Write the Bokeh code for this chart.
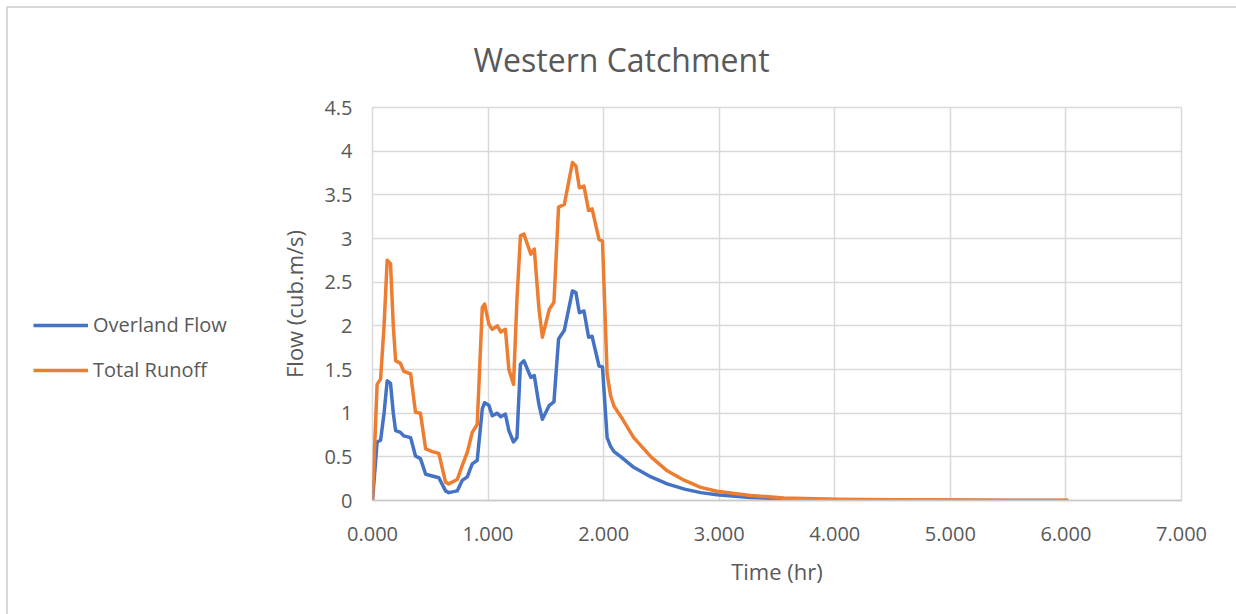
from bokeh.plotting import figure
from bokeh.layouts import row
from bokeh.models import Range1d, FixedTicker, Legend, LegendItem
from bokeh.embed import file_html
from bokeh.resources import INLINE

# ---- data ----
time_hr = [0, 0.04, 0.07, 0.10, 0.127, 0.156, 0.18, 0.2, 0.242, 0.27, 0.33, 0.372,
           0.415, 0.46, 0.517, 0.574, 0.632, 0.66, 0.733, 0.776, 0.82, 0.863, 0.906,
           0.95, 0.97, 1.007, 1.036, 1.08, 1.11, 1.15, 1.18, 1.22, 1.25, 1.28, 1.31,
           1.37, 1.4, 1.44, 1.47, 1.53, 1.57, 1.61, 1.66, 1.73, 1.76, 1.79, 1.83,
           1.87, 1.9, 1.96, 1.99, 2.03, 2.06, 2.09, 2.15, 2.26, 2.41, 2.55, 2.7,
           2.84, 2.98, 3.27, 3.56, 4.0, 4.5, 5.0, 5.5, 6.02]

overland_flow = [0, 0.67, 0.69, 1.0, 1.37, 1.34, 1.0, 0.8, 0.78, 0.74, 0.72, 0.51,
                 0.48, 0.3, 0.28, 0.26, 0.11, 0.09, 0.11, 0.23, 0.27, 0.42, 0.46,
                 1.05, 1.12, 1.09, 0.97, 1.0, 0.96, 0.99, 0.8, 0.67, 0.72, 1.56, 1.6,
                 1.41, 1.43, 1.1, 0.93, 1.09, 1.13, 1.85, 1.95, 2.4, 2.38, 2.15, 2.17,
                 1.87, 1.88, 1.54, 1.53, 0.72, 0.62, 0.56, 0.5, 0.38, 0.27, 0.19, 0.13,
                 0.09, 0.065, 0.035, 0.02, 0.008, 0.004, 0.002, 0.001, 0.001]

total_runoff = [0, 1.33, 1.39, 2.0, 2.75, 2.71, 2.0, 1.6, 1.57, 1.48, 1.45, 1.01,
                1.0, 0.59, 0.56, 0.54, 0.21, 0.19, 0.24, 0.4, 0.55, 0.78, 0.87,
                2.21, 2.25, 2.02, 1.96, 2.0, 1.93, 1.96, 1.5, 1.33, 2.3, 3.03, 3.05,
                2.82, 2.88, 2.2, 1.87, 2.19, 2.27, 3.36, 3.39, 3.87, 3.83, 3.58, 3.6,
                3.32, 3.34, 2.99, 2.97, 1.45, 1.2, 1.08, 0.96, 0.72, 0.5, 0.34, 0.23,
                0.15, 0.106, 0.057, 0.03, 0.015, 0.008, 0.005, 0.003, 0.002]

series_names = ["Overland Flow", "Total Runoff"]
series_colors = ["#4472C4", "#ED7D31"]

x_ticks = [0, 1, 2, 3, 4, 5, 6, 7]
x_tick_labels = ["0.000", "1.000", "2.000", "3.000", "4.000", "5.000", "6.000", "7.000"]
y_ticks = [0, 0.5, 1, 1.5, 2, 2.5, 3, 3.5, 4, 4.5]
y_tick_labels = ["0", "0.5", "1", "1.5", "2", "2.5", "3", "3.5", "4", "4.5"]

FONT = "Open Sans"
TXT = "#595959"
GRID = "#d9d9d9"
LW = 250  # width of the legend panel

# ---------- main chart ----------
p = figure(width=1228 - LW, height=606, x_range=Range1d(0, 7), y_range=Range1d(0, 4.5),
           output_backend="svg", toolbar_location=None,
           min_border_left=364 - LW, min_border_right=55, min_border_top=99, min_border_bottom=114,
           title="Western Catchment")
p.background_fill_color = "white"
p.border_fill_color = "white"
p.outline_line_color = GRID
p.outline_line_width = 1.5

p.title.text_font = FONT
p.title.text_font_size = "32px"
p.title.text_font_style = "normal"
p.title.text_color = TXT
p.title.align = "left"
p.title.offset = 101
p.title.standoff = 54

p.xgrid.ticker = FixedTicker(ticks=x_ticks)
p.ygrid.ticker = FixedTicker(ticks=y_ticks)
for g in (p.xgrid, p.ygrid):
    g.grid_line_color = GRID
    g.grid_line_width = 1.5

xa = p.xaxis[0]
ya = p.yaxis[0]
xa.ticker = FixedTicker(ticks=x_ticks)
ya.ticker = FixedTicker(ticks=y_ticks)
xa.major_label_overrides = {t: l for t, l in zip(x_ticks, x_tick_labels)}
ya.major_label_overrides = {t: l for t, l in zip(y_ticks, y_tick_labels)}
for a in (xa, ya):
    a.major_tick_in = 0
    a.major_tick_out = 0
    a.minor_tick_in = 0
    a.minor_tick_out = 0
    a.major_label_text_font = FONT
    a.major_label_text_font_size = "20px"
    a.major_label_text_color = TXT
    a.axis_label_text_font = FONT
    a.axis_label_text_font_size = "22px"
    a.axis_label_text_font_style = "normal"
    a.axis_label_text_color = TXT
xa.axis_line_color = "#c8c8c8"
xa.axis_line_width = 1.5
ya.axis_line_color = None
xa.axis_label = "Time (hr)"
ya.axis_label = "Flow (cub.m/s)"
xa.major_label_standoff = 26
xa.axis_label_standoff = 12
ya.major_label_standoff = 20
ya.axis_label_standoff = 12

p.line(time_hr, overland_flow, line_color=series_colors[0], line_width=3.5, line_join="round")
p.line(time_hr, total_runoff, line_color=series_colors[1], line_width=3.5, line_join="round")

# ---------- legend panel (same series, view kept empty; only the legend shows) ----------
lg = figure(width=LW, height=606, x_range=Range1d(100, 101), y_range=Range1d(100, 101),
            output_backend="svg", toolbar_location=None,
            x_axis_location=None, y_axis_location=None,
            min_border_left=0, min_border_right=0, min_border_top=0, min_border_bottom=0)
lg.grid.visible = False
lg.outline_line_color = None
lg.background_fill_color = "white"
lg.border_fill_color = "white"
l1 = lg.line(time_hr, overland_flow, line_color=series_colors[0], line_width=3.5)
l2 = lg.line(time_hr, total_runoff, line_color=series_colors[1], line_width=3.5)

legend = Legend(items=[LegendItem(label=series_names[0], renderers=[l1]),
                       LegendItem(label=series_names[1], renderers=[l2])],
                location=(25, 117))
legend.padding = 0
legend.margin = 0
legend.spacing = 18
legend.glyph_width = 55
legend.glyph_height = 20
legend.label_height = 20
legend.label_standoff = 5
legend.label_text_font = FONT
legend.label_text_font_size = "20px"
legend.label_text_color = TXT
legend.border_line_color = None
legend.background_fill_alpha = 0
lg.add_layout(legend, "center")

layout = row(lg, p, spacing=0)
layout.margin = (6, 0, 0, 6)
layout.styles = {"border-top": "2px solid #d9d9d9", "border-left": "2px solid #d9d9d9"}

open("out.html", "w").write(file_html(layout, INLINE))
